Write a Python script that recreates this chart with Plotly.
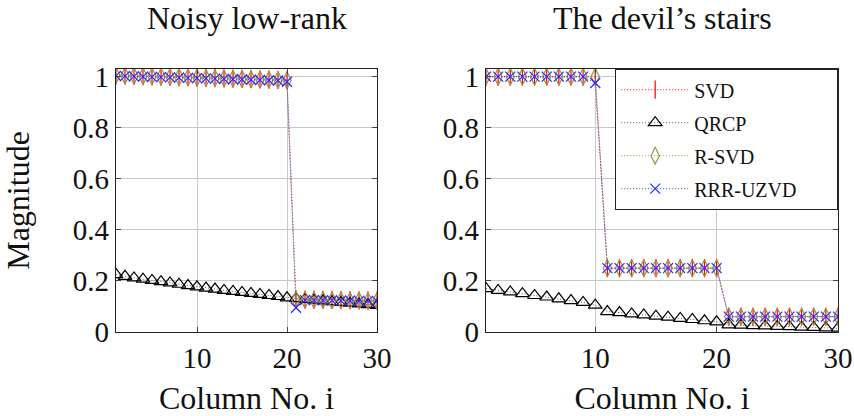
import plotly.graph_objects as go

cols = list(range(1, 31))

# Noisy low-rank
nl_svd = [1.005, 1.004, 1.003, 1.002, 1.001, 1.000, 0.999, 0.998, 0.997, 0.996,
          0.995, 0.994, 0.993, 0.992, 0.991, 0.990, 0.989, 0.988, 0.987, 0.986,
          0.128, 0.127, 0.127, 0.126, 0.126, 0.125, 0.125, 0.124, 0.124, 0.123]
nl_qrcp = [0.225, 0.218, 0.212, 0.207, 0.202, 0.197, 0.192, 0.187, 0.182, 0.177,
           0.172, 0.168, 0.163, 0.159, 0.155, 0.151, 0.147, 0.143, 0.139, 0.134,
           0.131, 0.128, 0.125, 0.122, 0.119, 0.116, 0.113, 0.110, 0.107, 0.104]
nl_rsvd = [1.005, 1.004, 1.003, 1.002, 1.001, 1.000, 0.999, 0.998, 0.997, 0.996,
           0.995, 0.994, 0.993, 0.992, 0.991, 0.990, 0.989, 0.988, 0.987, 0.986,
           0.126, 0.126, 0.125, 0.125, 0.124, 0.124, 0.123, 0.123, 0.122, 0.122]
nl_rrr = [1.003, 1.002, 1.001, 1.000, 0.999, 0.998, 0.997, 0.996, 0.995, 0.994,
          0.993, 0.992, 0.991, 0.990, 0.989, 0.988, 0.987, 0.986, 0.985, 0.980,
          0.095, 0.125, 0.125, 0.124, 0.124, 0.123, 0.123, 0.122, 0.122, 0.121]

# The devil's stairs
ds_svd = [1.0] * 10 + [0.25] * 10 + [0.06] * 10
ds_qrcp = [0.170, 0.163, 0.157, 0.150, 0.143, 0.137, 0.130, 0.123, 0.116, 0.105,
           0.080, 0.076, 0.071, 0.067, 0.062, 0.058, 0.053, 0.049, 0.044, 0.040,
           0.028, 0.027, 0.025, 0.024, 0.022, 0.021, 0.019, 0.018, 0.016, 0.015]
ds_rsvd = [1.0] * 10 + [0.25] * 10 + [0.06] * 10
ds_rrr = [1.0, 1.0, 1.0, 1.0, 1.0, 1.0, 1.0, 1.0, 1.0, 0.975,
          0.25, 0.25, 0.25, 0.25, 0.25, 0.25, 0.25, 0.25, 0.25, 0.25,
          0.06, 0.06, 0.06, 0.06, 0.06, 0.06, 0.06, 0.06, 0.06, 0.06]

names = ["SVD", "QRCP", "R-SVD", "RRR-UZVD"]
legend_labels = ["SVD", "QRCP", "R-SVD", "RRR-UZVD" + "&nbsp;" * 7]
line_colors = ["#ff0000", "#555555", "#9a9440", "#3a3aff"]
marker_colors = ["#ff0000", "#000000", "#9a9440", "#2a2aff"]
symbols = ["line-ns-open", "triangle-up-open", "diamond-tall-open", "x-thin-open"]
sizes = [13, 12, 12, 10]

FONT = "Liberation Serif"

fig = go.Figure()
panels = [(nl_svd, nl_qrcp, nl_rsvd, nl_rrr), (ds_svd, ds_qrcp, ds_rsvd, ds_rrr)]
for p, data in enumerate(panels):
    xa = "x" if p == 0 else "x2"
    ya = "y" if p == 0 else "y2"
    for i, ys in enumerate(data):
        fig.add_trace(go.Scatter(
            x=cols, y=ys, name=legend_labels[i], mode="lines+markers",
            legendgroup=names[i],
            xaxis=xa, yaxis=ya, showlegend=(p == 1),
            line=dict(color=line_colors[i], width=1, dash="1px,2px"),
            marker=dict(symbol=symbols[i], size=sizes[i], color=marker_colors[i],
                        line=dict(color=marker_colors[i], width=1.2)),
        ))

W, H = 854, 416
top = 1 - 69 / H
bot = 1 - 332 / H

axis_common = dict(
    showline=True, linecolor="#222222", linewidth=1.2, mirror="ticks",
    ticks="inside", ticklen=5, tickcolor="#444444", automargin=False,
    showgrid=True, gridcolor="#c8c8c8", gridwidth=1, zeroline=False,
    tickfont=dict(family=FONT, size=29, color="#111111"),
)
title_font = dict(family=FONT, size=32, color="#111111")

fig.update_layout(
    width=W, height=H,
    margin=dict(l=0, r=0, t=0, b=0),
    paper_bgcolor="white", plot_bgcolor="white",
    xaxis=dict(domain=[116 / W, 377 / W], range=[1, 30], tickvals=[10, 20, 30],
               title=dict(text="Column No. i", font=title_font, standoff=14),
               anchor="y", **axis_common),
    yaxis=dict(domain=[bot, top], range=[0, 1.03], tickvals=[0, 0.2, 0.4, 0.6, 0.8, 1],
               ticktext=["0", "0.2", "0.4", "0.6", "0.8", "1"],
               title=dict(text="Magnitude", font=title_font, standoff=34),
               anchor="x", **axis_common),
    xaxis2=dict(domain=[486 / W, 838 / W], range=[1, 30], tickvals=[10, 20, 30],
                title=dict(text="Column No. i", font=title_font, standoff=14),
                anchor="y2", **axis_common),
    yaxis2=dict(domain=[bot, top], range=[0, 1.03], tickvals=[0, 0.2, 0.4, 0.6, 0.8, 1],
                ticktext=["0", "0.2", "0.4", "0.6", "0.8", "1"],
                anchor="x2", **axis_common),
    legend=dict(x=838 / W, y=top, xanchor="right", yanchor="top",
                bgcolor="white", bordercolor="#222222", borderwidth=1.2,
                font=dict(family=FONT, size=20, color="#111111"),
                itemwidth=68, tracegroupgap=4),
    annotations=[
        dict(text="Noisy low-rank", x=(116 + 377) / 2 / W, y=1 - 18 / H, xref="paper", yref="paper",
             xanchor="center", yanchor="middle",
             showarrow=False, font=dict(family=FONT, size=32, color="#111111")),
        dict(text="The devil’s stairs", x=(486 + 838) / 2 / W, y=1 - 18 / H, xref="paper", yref="paper",
             xanchor="center", yanchor="middle",
             showarrow=False, font=dict(family=FONT, size=32, color="#111111")),
    ],
)

fig.write_html("out.html")
